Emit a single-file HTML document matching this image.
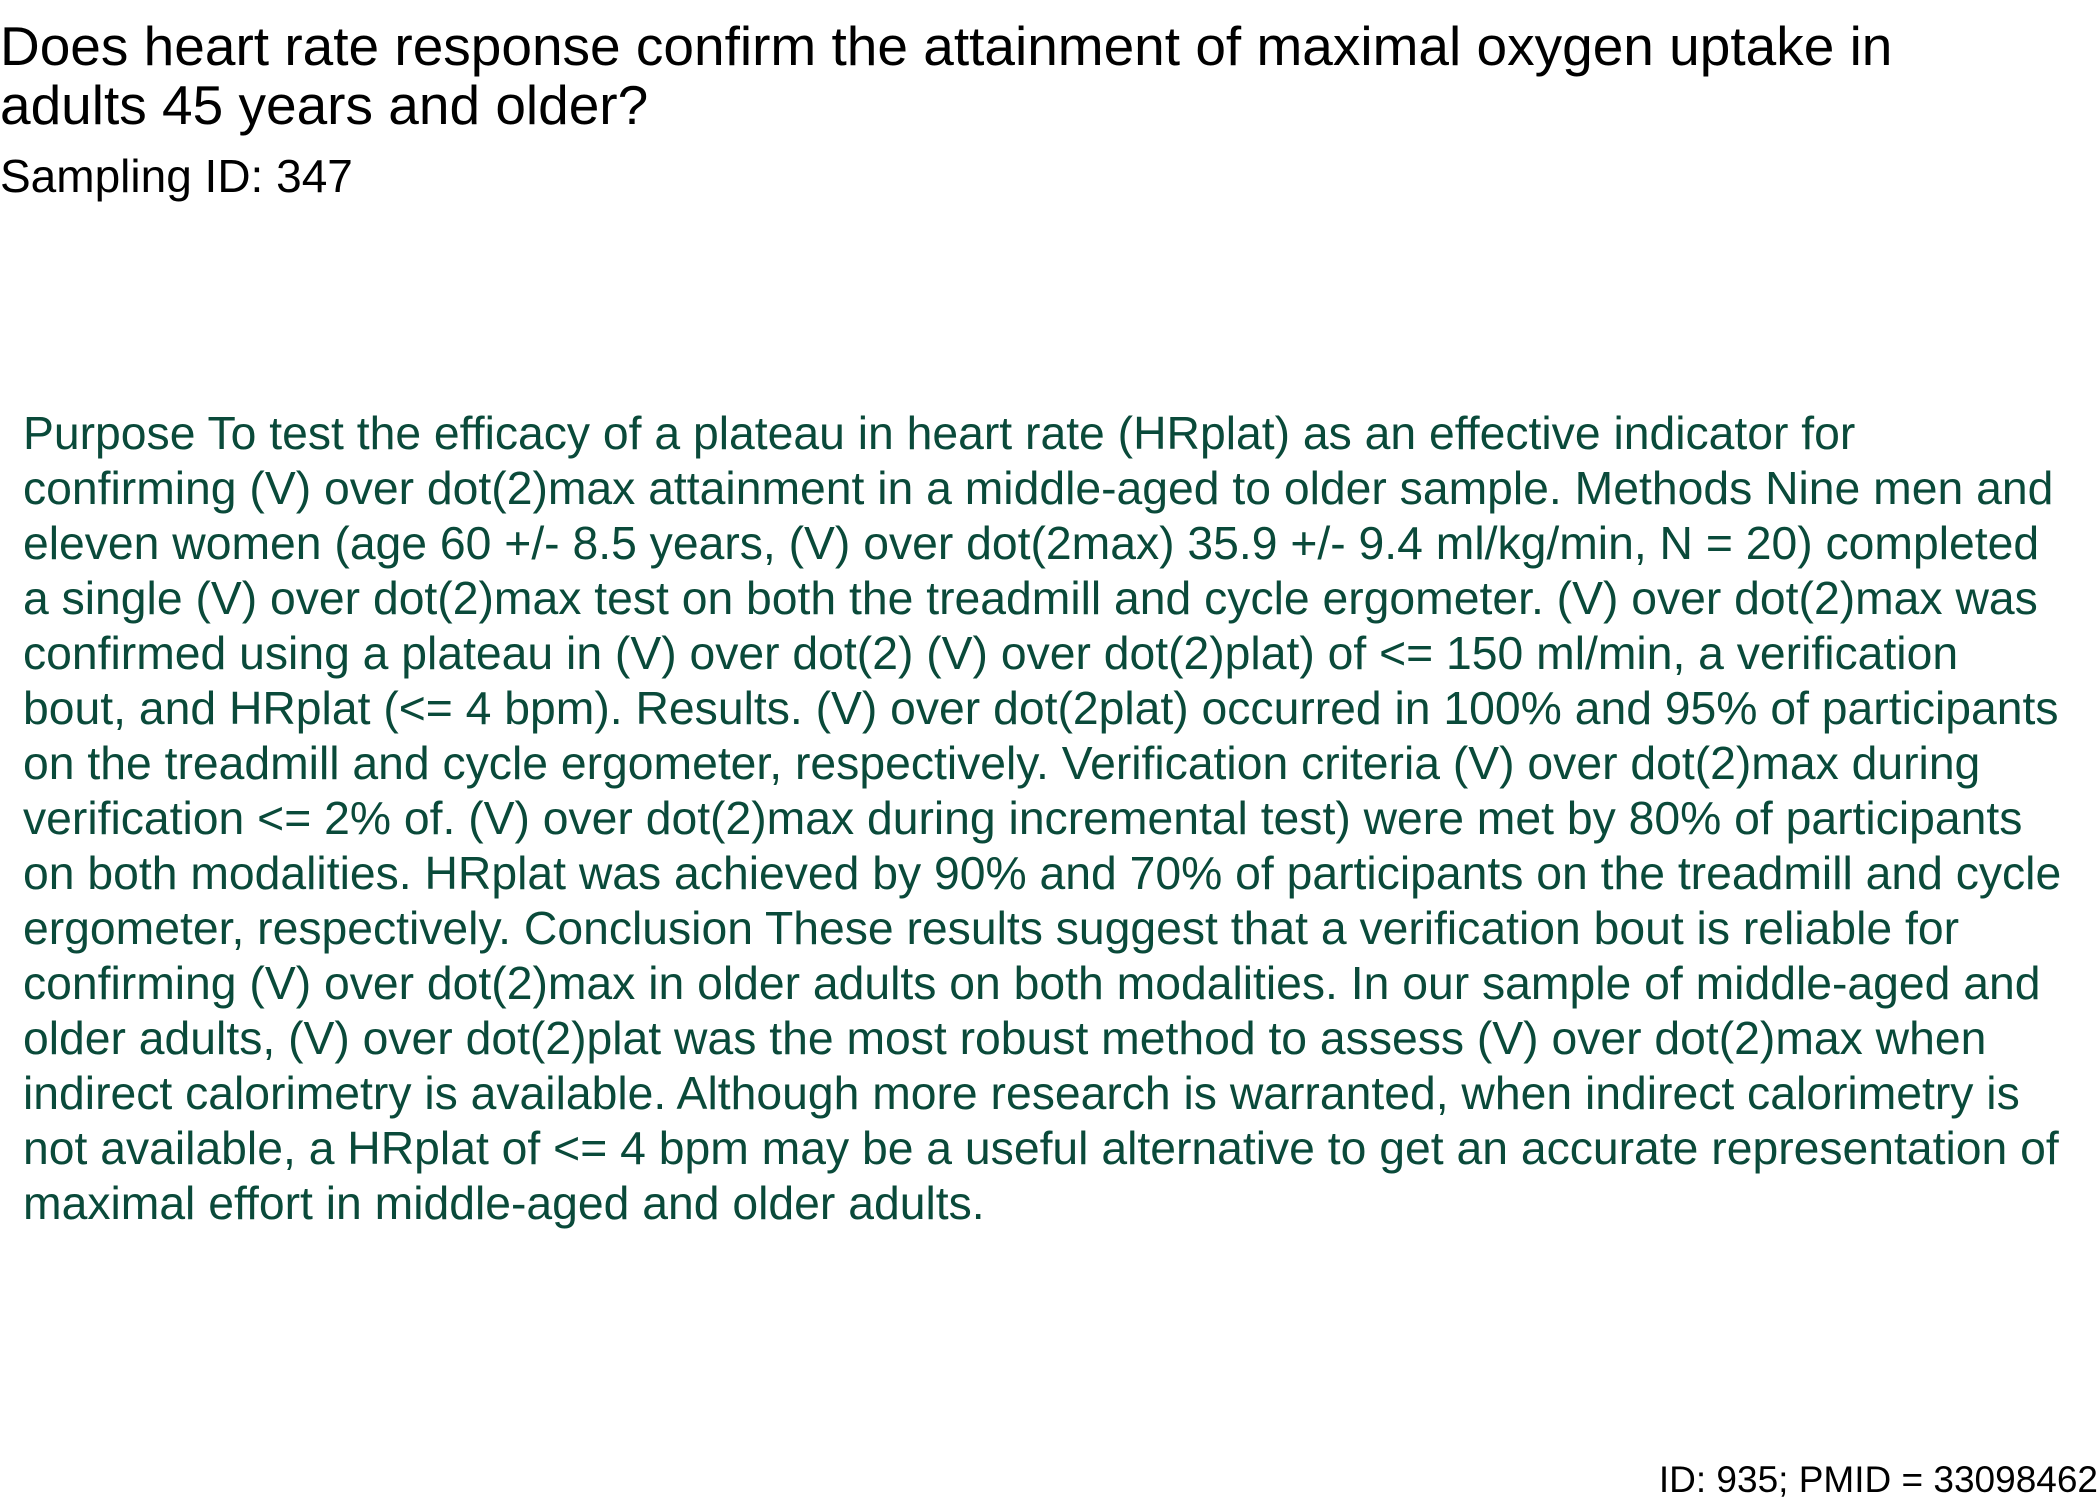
<!DOCTYPE html>
<html>
<head>
<meta charset="utf-8">
<style>
html,body{margin:0;padding:0;background:#fff;}
body{width:2100px;height:1500px;position:relative;overflow:hidden;font-family:"Liberation Sans",Arial,sans-serif;}
.t{position:absolute;white-space:nowrap;}
#title{left:0;top:17px;font-size:55px;line-height:59px;color:#000;}
#sub{left:0;top:152px;font-size:46px;line-height:48px;color:#000;}
#abs{left:23px;top:406px;font-size:46.3px;line-height:55px;color:#0a4a3a;}
#foot{right:2px;top:1460px;font-size:37px;line-height:40px;color:#000;}
</style>
</head>
<body>
<div class="t" id="title">Does heart rate response confirm the attainment of maximal oxygen uptake in<br>adults 45 years and older?</div>
<div class="t" id="sub">Sampling ID: 347</div>
<div class="t" id="abs">Purpose To test the efficacy of a plateau in heart rate (HRplat) as an effective indicator for<br>confirming (V) over dot(2)max attainment in a middle-aged to older sample. Methods Nine men and<br>eleven women (age 60 +/- 8.5 years, (V) over dot(2max) 35.9 +/- 9.4 ml/kg/min, N = 20) completed<br>a single (V) over dot(2)max test on both the treadmill and cycle ergometer. (V) over dot(2)max was<br>confirmed using a plateau in (V) over dot(2) (V) over dot(2)plat) of &lt;= 150 ml/min, a verification<br>bout, and HRplat (&lt;= 4 bpm). Results. (V) over dot(2plat) occurred in 100% and 95% of participants<br>on the treadmill and cycle ergometer, respectively. Verification criteria (V) over dot(2)max during<br>verification &lt;= 2% of. (V) over dot(2)max during incremental test) were met by 80% of participants<br>on both modalities. HRplat was achieved by 90% and 70% of participants on the treadmill and cycle<br>ergometer, respectively. Conclusion These results suggest that a verification bout is reliable for<br>confirming (V) over dot(2)max in older adults on both modalities. In our sample of middle-aged and<br>older adults, (V) over dot(2)plat was the most robust method to assess (V) over dot(2)max when<br>indirect calorimetry is available. Although more research is warranted, when indirect calorimetry is<br>not available, a HRplat of &lt;= 4 bpm may be a useful alternative to get an accurate representation of<br>maximal effort in middle-aged and older adults.</div>
<div class="t" id="foot">ID: 935; PMID = 33098462</div>
</body>
</html>
